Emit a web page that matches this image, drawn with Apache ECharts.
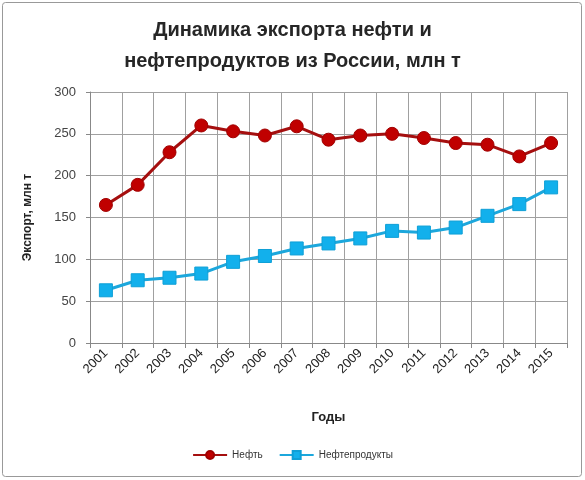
<!DOCTYPE html>
<html>
<head>
<meta charset="utf-8">
<script src="https://cdn.jsdelivr.net/npm/echarts@6/dist/echarts.min.js"></script>
<style>
  html, body { margin: 0; padding: 0; background: #fff; }
  #main { width: 585px; height: 480px; }
</style>
</head>
<body>
<div id="main"></div>
<script>
// годы и значения (млн т)
var years = ['2001','2002','2003','2004','2005','2006','2007','2008','2009','2010','2011','2012','2013','2014','2015'];
var oil = [165, 189, 228, 260, 253, 248, 259, 243, 248, 250, 245, 239, 237, 223, 239];
var products = [63, 75, 78, 83, 97, 104, 113, 119, 125, 134, 132, 138, 152, 166, 186];

var chart = echarts.init(document.getElementById('main'));

var option = {
  backgroundColor: '#fff',
  title: {
    text: 'Динамика экспорта нефти и\nнефтепродуктов из России, млн т',
    left: 'center',
    top: 10,
    textStyle: {
      fontFamily: 'Liberation Sans',
      fontSize: 20,
      fontWeight: 'bold',
      color: '#262626',
      lineHeight: 31
    }
  },
  graphic: [{
    type: 'rect',
    shape: { x: 2.5, y: 2.5, width: 579, height: 474, r: 3 },
    style: { fill: 'none', stroke: '#999', lineWidth: 1 }
  }],
  legend: {
    bottom: 15,
    left: 'center',
    itemWidth: 34,
    itemHeight: 10,
    itemGap: 16,
    textStyle: { fontFamily: 'Liberation Sans', fontSize: 10, color: '#333' },
    data: ['Нефть', 'Нефтепродукты']
  },
  grid: {
    left: 90,
    right: 18,
    top: 92,
    bottom: 137
  },
  xAxis: {
    type: 'category',
    data: years,
    boundaryGap: true,
    name: 'Годы',
    nameLocation: 'middle',
    nameGap: 68,
    nameTextStyle: { fontFamily: 'Liberation Sans', fontSize: 13, fontWeight: 'bold', color: '#222' },
    axisLine: { lineStyle: { color: '#888' } },
    axisTick: { show: true, length: 5, lineStyle: { color: '#888' } },
    axisLabel: { rotate: 45, fontFamily: 'Liberation Sans', fontSize: 13, color: '#222', margin: 8 },
    splitLine: { show: true, lineStyle: { color: '#a0a0a0' } }
  },
  yAxis: {
    type: 'value',
    min: 0,
    max: 300,
    interval: 50,
    name: 'Экспорт, млн т',
    nameLocation: 'middle',
    nameGap: 56,
    nameTextStyle: { fontFamily: 'Liberation Sans', fontSize: 12, fontWeight: 'bold', color: '#222' },
    axisLine: { show: true, lineStyle: { color: '#888' } },
    axisTick: { show: true, length: 4, lineStyle: { color: '#888' } },
    axisLabel: { fontFamily: 'Liberation Sans', fontSize: 13, color: '#444', margin: 14 },
    splitLine: { show: true, lineStyle: { color: '#a0a0a0' } }
  },
  series: [
    {
      name: 'Нефть',
      type: 'line',
      data: oil,
      symbol: 'circle',
      symbolSize: 13,
      lineStyle: { color: '#a50f0f', width: 3 },
      itemStyle: { color: '#c00000', borderColor: '#a00000', borderWidth: 1 },
      z: 3
    },
    {
      name: 'Нефтепродукты',
      type: 'line',
      data: products,
      symbol: 'rect',
      symbolSize: 13,
      lineStyle: { color: '#1ca7dc', width: 3 },
      itemStyle: { color: '#12b0ec', borderColor: '#0e9fd6', borderWidth: 1 },
      z: 2
    }
  ]
};

chart.setOption(option);
</script>
</body>
</html>
